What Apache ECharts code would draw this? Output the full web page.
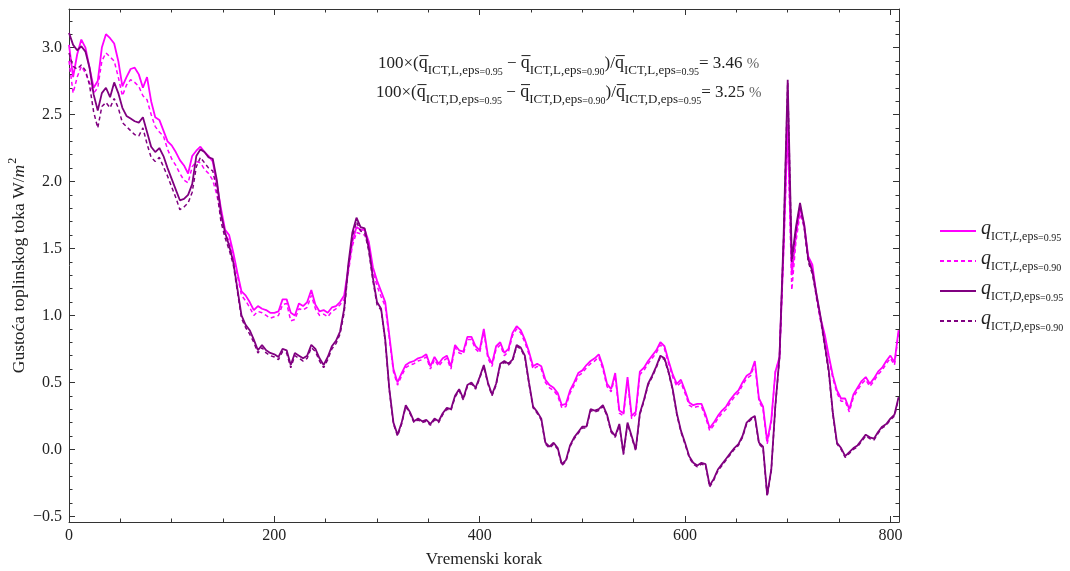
<!DOCTYPE html>
<html>
<head>
<meta charset="utf-8">
<script src="https://cdn.jsdelivr.net/npm/echarts@6/dist/echarts.min.js"></script>
<style>
html,body{margin:0;padding:0;background:#fff;}
#chart{width:1070px;height:571px;}
</style>
</head>
<body>
<div id="chart"></div>
<script>
// ---- data ----
const steps = [
0,4,8,12,16,20,24,28,32,36,
40,44,48,52,56,60,64,68,72,76,
80,84,88,92,96,100,104,108,112,116,
120,124,128,132,136,140,144,148,152,156,
160,164,168,172,176,180,184,188,192,196,
200,204,208,212,216,220,224,228,232,236,
240,244,248,252,256,260,264,268,272,276,
280,284,288,292,296,300,304,308,312,316,
320,324,328,332,336,340,344,348,352,356,
360,364,368,372,376,380,384,388,392,396,
400,404,408,412,416,420,424,428,432,436,
440,444,448,452,456,460,464,468,472,476,
480,484,488,492,496,500,504,508,512,516,
520,524,528,532,536,540,544,548,552,556,
560,564,568,572,576,580,584,588,592,596,
600,604,608,612,616,620,624,628,632,636,
640,644,648,652,656,660,664,668,672,676,
680,684,688,692,696,700,704,708,712,716,
720,724,728,732,736,740,744,748,752,756,
760,764,768,772,776,780,784,788,792,796,
800,804,808];

const qL95 = [
3.02,2.78,2.95,3.06,3.00,2.85,2.70,2.75,3.00,3.10,
3.07,3.03,2.90,2.71,2.78,2.84,2.85,2.80,2.70,2.78,
2.60,2.48,2.46,2.38,2.30,2.27,2.22,2.16,2.12,2.06,
2.19,2.23,2.26,2.22,2.19,2.15,1.98,1.80,1.64,1.60,
1.47,1.32,1.18,1.15,1.10,1.04,1.07,1.05,1.04,1.02,
1.02,1.03,1.12,1.12,1.02,1.00,1.09,1.07,1.10,1.19,
1.08,1.03,1.04,1.02,1.06,1.07,1.10,1.15,1.35,1.55,
1.66,1.64,1.64,1.55,1.36,1.26,1.18,1.10,0.85,0.60,
0.50,0.57,0.63,0.65,0.66,0.68,0.69,0.71,0.62,0.69,
0.64,0.68,0.70,0.62,0.78,0.74,0.73,0.84,0.84,0.77,
0.74,0.90,0.70,0.64,0.77,0.80,0.72,0.75,0.87,0.92,
0.89,0.82,0.73,0.62,0.64,0.62,0.52,0.48,0.46,0.42,
0.33,0.34,0.44,0.50,0.57,0.59,0.63,0.66,0.68,0.71,
0.62,0.49,0.45,0.57,0.29,0.27,0.54,0.25,0.28,0.58,
0.61,0.66,0.70,0.74,0.80,0.77,0.66,0.56,0.49,0.52,
0.44,0.35,0.33,0.34,0.34,0.26,0.16,0.20,0.25,0.29,
0.32,0.37,0.41,0.44,0.50,0.55,0.57,0.66,0.38,0.32,
0.06,0.22,0.58,0.69,1.50,2.43,1.30,1.60,1.80,1.68,
1.44,1.38,1.15,0.98,0.86,0.70,0.55,0.44,0.38,0.38,
0.30,0.41,0.46,0.51,0.54,0.49,0.53,0.58,0.61,0.66,
0.70,0.65,0.89];

const qL90 = [
2.90,2.66,2.78,2.86,2.81,2.74,2.66,2.70,2.90,2.96,
2.93,2.90,2.78,2.64,2.72,2.76,2.74,2.71,2.64,2.61,
2.50,2.41,2.37,2.34,2.24,2.17,2.12,2.06,2.01,1.99,
2.11,2.15,2.14,2.09,2.06,2.01,1.90,1.74,1.60,1.56,
1.44,1.30,1.15,1.11,1.06,1.00,1.03,1.02,1.00,0.98,
0.99,1.00,1.08,1.09,0.96,0.97,1.05,1.04,1.06,1.15,
1.05,1.00,1.01,0.99,1.03,1.05,1.08,1.12,1.32,1.52,
1.62,1.61,1.60,1.52,1.33,1.22,1.14,1.07,0.83,0.58,
0.48,0.55,0.61,0.63,0.64,0.66,0.67,0.69,0.60,0.67,
0.62,0.66,0.68,0.60,0.76,0.72,0.71,0.82,0.82,0.75,
0.72,0.88,0.68,0.62,0.75,0.78,0.70,0.73,0.85,0.90,
0.87,0.80,0.71,0.60,0.62,0.60,0.50,0.46,0.44,0.40,
0.31,0.32,0.42,0.48,0.55,0.57,0.61,0.64,0.66,0.69,
0.60,0.47,0.43,0.55,0.27,0.25,0.52,0.23,0.26,0.56,
0.59,0.64,0.68,0.72,0.78,0.75,0.64,0.54,0.47,0.50,
0.42,0.33,0.31,0.32,0.32,0.24,0.14,0.18,0.23,0.27,
0.30,0.35,0.39,0.42,0.48,0.53,0.55,0.64,0.36,0.30,
0.04,0.20,0.58,0.68,1.48,2.38,1.19,1.55,1.76,1.66,
1.42,1.36,1.13,0.96,0.84,0.68,0.53,0.42,0.36,0.36,
0.28,0.39,0.44,0.49,0.52,0.47,0.51,0.56,0.59,0.64,
0.68,0.63,0.87];

const qD95 = [
3.11,3.02,2.98,3.01,2.97,2.85,2.65,2.53,2.66,2.70,
2.63,2.74,2.66,2.55,2.49,2.47,2.45,2.44,2.48,2.37,
2.26,2.22,2.25,2.19,2.10,2.02,1.94,1.86,1.87,1.90,
1.98,2.19,2.24,2.22,2.18,2.17,2.01,1.76,1.62,1.52,
1.40,1.20,1.00,0.93,0.89,0.82,0.74,0.78,0.74,0.72,
0.71,0.69,0.75,0.74,0.63,0.72,0.70,0.68,0.70,0.78,
0.75,0.68,0.63,0.69,0.77,0.81,0.88,1.05,1.38,1.62,
1.73,1.66,1.65,1.50,1.28,1.10,1.05,0.82,0.45,0.20,
0.11,0.20,0.33,0.28,0.21,0.23,0.21,0.22,0.19,0.23,
0.21,0.27,0.31,0.30,0.40,0.45,0.38,0.48,0.50,0.46,
0.54,0.63,0.50,0.41,0.49,0.64,0.66,0.64,0.67,0.78,
0.76,0.70,0.50,0.32,0.28,0.23,0.05,0.02,0.05,0.01,
-0.11,-0.08,0.03,0.09,0.13,0.17,0.17,0.30,0.29,0.30,
0.33,0.26,0.14,0.10,0.19,-0.03,0.20,0.10,0.00,0.27,
0.37,0.49,0.55,0.62,0.70,0.68,0.58,0.45,0.27,0.14,
0.05,-0.05,-0.10,-0.12,-0.10,-0.11,-0.27,-0.22,-0.15,-0.11,
-0.07,-0.03,0.01,0.04,0.10,0.20,0.23,0.25,0.05,0.02,
-0.34,-0.15,0.33,0.69,1.59,2.76,1.42,1.66,1.84,1.68,
1.42,1.33,1.16,0.99,0.79,0.59,0.27,0.05,0.01,-0.05,
-0.02,0.01,0.03,0.07,0.11,0.09,0.08,0.13,0.17,0.19,
0.23,0.26,0.39];

const qD90 = [
2.96,2.86,2.84,2.87,2.83,2.72,2.52,2.40,2.56,2.59,
2.55,2.62,2.55,2.44,2.41,2.38,2.35,2.34,2.40,2.28,
2.18,2.15,2.18,2.11,2.04,1.96,1.88,1.79,1.81,1.84,
1.92,2.11,2.18,2.14,2.10,2.08,1.94,1.70,1.58,1.49,
1.38,1.18,0.98,0.91,0.86,0.80,0.72,0.76,0.72,0.70,
0.69,0.67,0.73,0.72,0.61,0.70,0.68,0.66,0.68,0.76,
0.73,0.66,0.61,0.67,0.75,0.79,0.86,1.02,1.35,1.59,
1.70,1.63,1.62,1.48,1.26,1.08,1.04,0.81,0.44,0.19,
0.10,0.19,0.32,0.27,0.20,0.22,0.20,0.21,0.18,0.22,
0.20,0.26,0.30,0.29,0.39,0.44,0.37,0.47,0.49,0.45,
0.53,0.62,0.49,0.40,0.48,0.63,0.65,0.63,0.66,0.77,
0.75,0.69,0.49,0.31,0.27,0.22,0.04,0.01,0.04,0.00,
-0.12,-0.09,0.02,0.08,0.12,0.16,0.16,0.29,0.28,0.29,
0.32,0.25,0.13,0.09,0.18,-0.04,0.19,0.09,-0.01,0.26,
0.36,0.48,0.54,0.61,0.69,0.67,0.57,0.44,0.26,0.13,
0.04,-0.06,-0.11,-0.13,-0.11,-0.12,-0.28,-0.23,-0.16,-0.12,
-0.08,-0.04,0.00,0.03,0.09,0.19,0.22,0.24,0.04,0.01,
-0.35,-0.16,0.32,0.68,1.57,2.74,1.40,1.63,1.82,1.66,
1.40,1.31,1.14,0.97,0.77,0.57,0.26,0.04,0.00,-0.06,
-0.03,0.00,0.02,0.06,0.10,0.08,0.07,0.12,0.16,0.18,
0.22,0.25,0.38];

const xMajor = [0,200,400,600,800];
const xMinor = [50,100,150,250,300,350,450,500,550,650,700,750];
const yMajor = [-0.5,0,0.5,1,1.5,2,2.5,3];
const yMinor = [-0.4,-0.3,-0.2,-0.1,0.1,0.2,0.3,0.4,0.6,0.7,0.8,0.9,1.1,1.2,1.3,1.4,1.6,1.7,1.8,1.9,2.1,2.2,2.3,2.4,2.6,2.7,2.8,2.9,3.1,3.2];

const ratioL = '3.46';
const ratioD = '3.25';
const xTitle = 'Vremenski korak';
const yTitle = 'Gustoća toplinskog toka W/';

// ---- chart ----
const FONT = '"Liberation Serif","DejaVu Serif",serif';
const X_MIN = 0, X_MAX = 808.4, Y_MIN = -0.542, Y_MAX = 3.288;
const AX = '#333';

const pairs = arr => steps.map((s, i) => [s, arr[i]]);

function xAx(pos, ticks, len, showLine, showLabel) {
  return {
    type: 'value', position: pos, min: X_MIN, max: X_MAX,
    axisLine: {show: showLine, onZero: false, lineStyle: {color: AX, width: 1}},
    axisTick: {show: true, inside: true, length: len, customValues: ticks, lineStyle: {color: AX}},
    axisLabel: showLabel ? {customValues: ticks, color: '#222', fontFamily: FONT, fontSize: 16, margin: 6} : {show: false},
    splitLine: {show: false},
    name: showLabel ? xTitle : '',
    nameLocation: 'middle', nameGap: 29,
    nameTextStyle: {fontFamily: FONT, fontSize: 17, color: '#222'}
  };
}
function yAx(pos, ticks, len, showLine, showLabel) {
  return {
    type: 'value', position: pos, min: Y_MIN, max: Y_MAX,
    axisLine: {show: showLine, onZero: false, lineStyle: {color: AX, width: 1}},
    axisTick: {show: true, inside: true, length: len, customValues: ticks, lineStyle: {color: AX}},
    axisLabel: showLabel ? {
      customValues: ticks, color: '#222', fontFamily: FONT, fontSize: 16, margin: 7,
      formatter: v => (v < 0 ? '−' : '') + Math.abs(v).toFixed(1)
    } : {show: false},
    splitLine: {show: false},
    name: showLabel ? '{t|' + yTitle + '}{i|m}{s|2}' : '',
    nameLocation: 'middle', nameGap: 41, nameRotate: 90, nameMoveOverlap: false,
    nameTextStyle: {
      fontFamily: FONT, color: '#222',
      rich: {
        t: {fontFamily: FONT, fontSize: 17.5, color: '#222', verticalAlign: 'bottom'},
        i: {fontFamily: FONT, fontSize: 17.5, fontStyle: 'italic', color: '#222', verticalAlign: 'bottom'},
        s: {fontFamily: FONT, fontSize: 12, color: '#222', verticalAlign: 'bottom', padding: [0, 0, 9, 1]}
      }
    }
  };
}

const legendNames = {
  L95: '{q|q}{s|ICT,}{i|L}{s|,eps}{t|=0.95}',
  L90: '{q|q}{s|ICT,}{i|L}{s|,eps}{t|=0.90}',
  D95: '{q|q}{s|ICT,}{i|D}{s|,eps}{t|=0.95}',
  D90: '{q|q}{s|ICT,}{i|D}{s|,eps}{t|=0.90}'
};

const MAG = '#ff00ff', PUR = '#800080';
function line(name, data, color, dashed) {
  return {
    name, type: 'line', data: pairs(data), xAxisIndex: 0, yAxisIndex: 0,
    symbol: 'none', showSymbol: false, smooth: false,
    lineStyle: {color, width: dashed ? 1.5 : 1.8, type: dashed ? [4, 3] : 'solid'},
    itemStyle: {color},
    emphasis: {disabled: true}
  };
}

function annot(label, val) {
  return '{b|100×(}{q|q̅}{s|ICT,' + label + ',eps}{t|=0.95}{b| − }{q|q̅}{s|ICT,' + label + ',eps}{t|=0.90}{b|)/}{q|q̅}{s|ICT,' + label + ',eps}{t|=0.95}{b|= ' + val + ' }{p|%}';
}
const annotRich = {
  b: {fontFamily: FONT, fontSize: 17, fill: '#222', verticalAlign: 'bottom', padding: [0, 0, 5, 0]},
  q: {fontFamily: FONT, fontSize: 18, fill: '#222', verticalAlign: 'bottom', padding: [0, 0, 5, 0]},
  s: {fontFamily: FONT, fontSize: 13, fill: '#222', verticalAlign: 'bottom'},
  t: {fontFamily: FONT, fontSize: 10, fill: '#222', verticalAlign: 'bottom'},
  p: {fontFamily: FONT, fontSize: 15, fill: '#666', verticalAlign: 'bottom', padding: [0, 0, 5, 0]}
};

const chart = echarts.init(document.getElementById('chart'), null, {renderer: 'canvas'});
chart.setOption({
  animation: false,
  backgroundColor: '#fff',
  grid: {left: 69, top: 9, width: 830, height: 513, containLabel: false, outerBoundsMode: 'none'},
  xAxis: [
    xAx('bottom', xMajor, 6, true, true),
    xAx('bottom', xMinor, 3.5, false, false),
    xAx('top', xMajor, 6, true, false),
    xAx('top', xMinor, 3.5, false, false)
  ],
  yAxis: [
    yAx('left', yMajor, 6, true, true),
    yAx('left', yMinor, 3.5, false, false),
    yAx('right', yMajor, 6, true, false),
    yAx('right', yMinor, 3.5, false, false)
  ],
  legend: {
    orient: 'vertical', left: 934, top: 214,
    itemWidth: 36, itemHeight: 14, itemGap: 6,
    data: ['L95', 'L90', 'D95', 'D90'],
    selectedMode: false,
    itemStyle: {opacity: 0},
    formatter: n => legendNames[n],
    textStyle: {
      fontFamily: FONT, color: '#222',
      rich: {
        q: {fontFamily: FONT, fontSize: 20, fontStyle: 'italic', color: '#222', verticalAlign: 'bottom', padding: [0, 0, 4, 0]},
        s: {fontFamily: FONT, fontSize: 12, color: '#222', verticalAlign: 'bottom'},
        i: {fontFamily: FONT, fontSize: 12, fontStyle: 'italic', color: '#222', verticalAlign: 'bottom'},
        t: {fontFamily: FONT, fontSize: 10, color: '#222', verticalAlign: 'bottom'}
      }
    }
  },
  graphic: [
    {type: 'text', left: 378, top: 54, silent: true,
     style: {text: annot('L', ratioL), rich: annotRich, fontFamily: FONT}},
    {type: 'text', left: 376, top: 83, silent: true,
     style: {text: annot('D', ratioD), rich: annotRich, fontFamily: FONT}}
  ],
  series: [
    line('L95', qL95, MAG, false),
    line('L90', qL90, MAG, true),
    line('D95', qD95, PUR, false),
    line('D90', qD90, PUR, true)
  ]
});
</script>
</body>
</html>
